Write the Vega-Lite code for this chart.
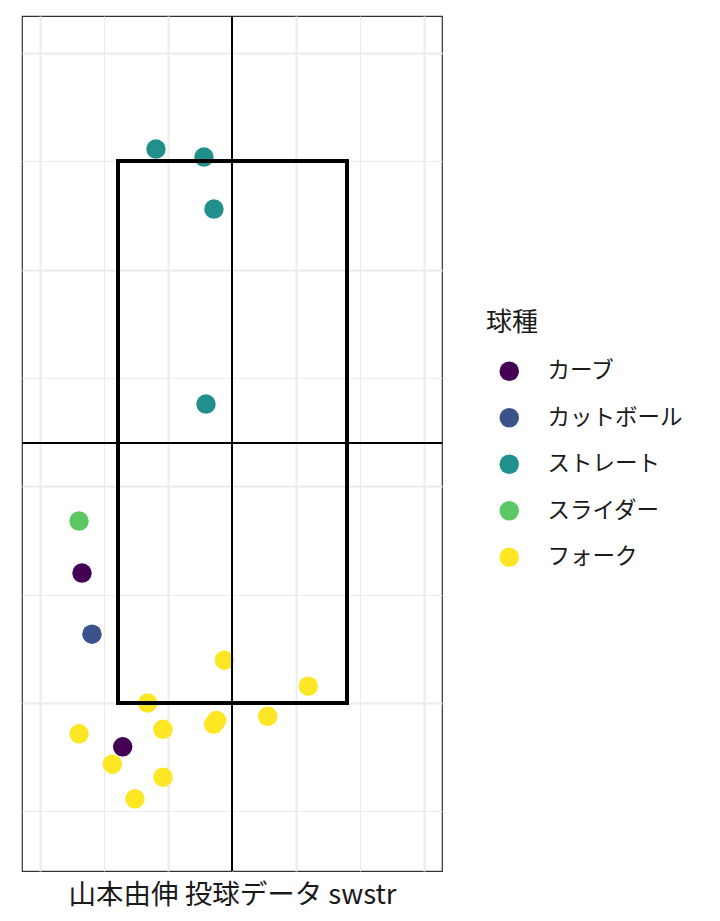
{
  "$schema": "https://vega.github.io/schema/vega-lite/v6.json",
  "width": 420,
  "height": 855,
  "padding": {"left": 21, "top": 15, "right": 0, "bottom": 5},
  "background": "white",
  "config": {
    "font": "Noto Sans CJK JP",
    "view": {"stroke": "#333333", "strokeWidth": 1.2}
  },
  "data": {
    "values": [
      {"x": 0.906, "y": 2.557, "pitch": "ストレート"},
      {"x": 1.281, "y": 2.520, "pitch": "ストレート"},
      {"x": 1.359, "y": 2.280, "pitch": "ストレート"},
      {"x": 1.297, "y": 1.380, "pitch": "ストレート"},
      {"x": 0.305, "y": 0.840, "pitch": "スライダー"},
      {"x": 0.328, "y": 0.600, "pitch": "カーブ"},
      {"x": 0.406, "y": 0.318, "pitch": "カットボール"},
      {"x": 1.440, "y": 0.198, "pitch": "フォーク"},
      {"x": 2.096, "y": 0.078, "pitch": "フォーク"},
      {"x": 0.841, "y": 0.000, "pitch": "フォーク"},
      {"x": 1.380, "y": -0.080, "pitch": "フォーク"},
      {"x": 1.357, "y": -0.098, "pitch": "フォーク"},
      {"x": 1.779, "y": -0.061, "pitch": "フォーク"},
      {"x": 0.305, "y": -0.142, "pitch": "フォーク"},
      {"x": 0.961, "y": -0.121, "pitch": "フォーク"},
      {"x": 0.646, "y": -0.202, "pitch": "カーブ"},
      {"x": 0.565, "y": -0.282, "pitch": "フォーク"},
      {"x": 0.961, "y": -0.342, "pitch": "フォーク"},
      {"x": 0.742, "y": -0.442, "pitch": "フォーク"}
    ]
  },
  "layer": [
    {
      "mark": {"type": "point", "filled": true, "opacity": 1, "size": 380, "shape": "circle"},
      "encoding": {
        "x": {
          "field": "x", "type": "quantitative",
          "scale": {"domain": [-0.1406, 3.1406], "nice": false, "zero": false},
          "axis": {
            "title": "山本由伸 投球データ swstr",
            "titleFontSize": 27.5, "titleFontWeight": "normal", "titleColor": "#1a1a1a",
            "titlePadding": 10,
            "labels": false, "ticks": false, "domain": false,
            "values": [0, 0.5, 1, 1.5, 2, 2.5, 3],
            "grid": true, "gridColor": "#EBEBEB",
            "gridWidth": {"condition": {"test": "datum.value % 1 === 0", "value": 2}, "value": 1}
          }
        },
        "y": {
          "field": "y", "type": "quantitative",
          "scale": {"domain": [-0.775, 3.171], "nice": false, "zero": false},
          "axis": {
            "title": null,
            "labels": false, "ticks": false, "domain": false,
            "values": [-0.5, 0, 0.5, 1, 1.5, 2, 2.5, 3],
            "grid": true, "gridColor": "#EBEBEB",
            "gridWidth": {"condition": {"test": "datum.value % 1 === 0", "value": 2}, "value": 1}
          }
        },
        "color": {
          "field": "pitch", "type": "nominal",
          "scale": {
            "domain": ["カーブ", "カットボール", "ストレート", "スライダー", "フォーク"],
            "range": ["#440154", "#3B528B", "#21908C", "#5DC863", "#FDE725"]
          },
          "legend": {
            "title": "球種",
            "orient": "none", "legendX": 464, "legendY": 294,
            "titleFontSize": 26, "titleFontWeight": "normal", "titleColor": "#1a1a1a",
            "titlePadding": 24,
            "labelFontSize": 22.5, "labelColor": "#1a1a1a", "labelOffset": 27,
            "symbolType": "circle", "symbolSize": 380, "symbolOffset": 12,
            "symbolStrokeWidth": 0,
            "rowPadding": 23.5
          }
        }
      }
    },
    {
      "mark": {"type": "rect", "fill": null, "fillOpacity": 0, "stroke": "black", "strokeWidth": 3},
      "encoding": {
        "x": {"datum": 0.609},
        "x2": {"datum": 2.398},
        "y": {"datum": 0},
        "y2": {"datum": 2.501}
      }
    },
    {
      "mark": {"type": "rule", "color": "black", "strokeWidth": 2},
      "encoding": {"x": {"datum": 1.5}}
    },
    {
      "mark": {"type": "rule", "color": "black", "strokeWidth": 2},
      "encoding": {"y": {"datum": 1.2}}
    }
  ]
}
